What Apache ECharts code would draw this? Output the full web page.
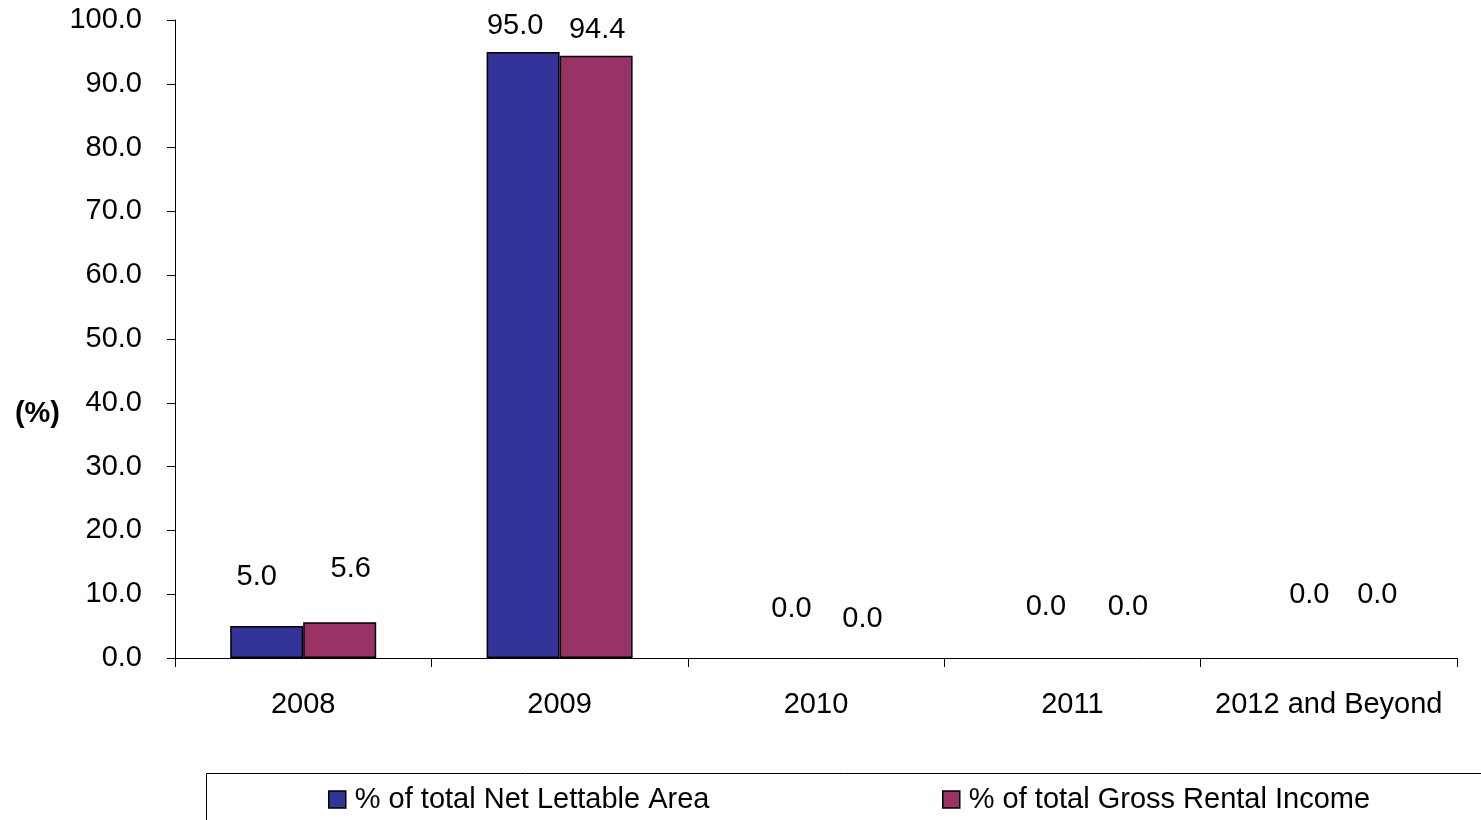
<!DOCTYPE html>
<html>
<head>
<meta charset="utf-8">
<title>Lease expiry profile</title>
<script src="https://cdn.jsdelivr.net/npm/echarts@6/dist/echarts.min.js"></script>
<style>
  html, body { margin: 0; padding: 0; background: #fff; }
  #chart { width: 1481px; height: 820px; }
</style>
</head>
<body>
<div id="chart"></div>
<script>
// categories and series values
var categories = ['2008', '2009', '2010', '2011', '2012 and Beyond'];
var netLettableArea = [5.0, 95.0, 0.0, 0.0, 0.0];
var grossRentalIncome = [5.6, 94.4, 0.0, 0.0, 0.0];
var seriesNames = ['% of total Net Lettable Area', '% of total Gross Rental Income'];
var yTicks = [0, 10, 20, 30, 40, 50, 60, 70, 80, 90, 100];

// hand-moved data labels in the original, kept apart from the values
var nlaLabelShift = [[-10, -30], [-8, -6], [12, -30], [10, -32], [17, -44]];
var griLabelShift = [[11, -34], [1, -6], [10, -20], [19, -32], [12, -44]];

var font = 'Liberation Sans, Arial, sans-serif';
var fs = 29;

function withLabels(values, shifts) {
  return values.map(function (v, i) {
    var item = { value: v, label: { offset: shifts[i] } };
    // empty bars: no outline, like the original
    if (v === 0) item.itemStyle = { borderWidth: 0 };
    return item;
  });
}

var myChart = echarts.init(document.getElementById('chart'));

var legendBase = {
  top: 785,
  padding: 0,
  icon: 'rect',
  itemWidth: 17,
  itemHeight: 17,
  itemStyle: { borderColor: '#000', borderWidth: 1.5 },
  textStyle: { fontSize: fs, color: '#000', fontFamily: font, padding: [0, 0, 0, 4] }
};

var option = {
  backgroundColor: '#fff',
  animation: false,
  textStyle: { fontFamily: font },
  grid: {
    left: 175,
    right: 24,
    top: 20,
    bottom: 162
  },
  legend: [
    Object.assign({}, legendBase, { data: [seriesNames[0]], left: 328 }),
    Object.assign({}, legendBase, { data: [seriesNames[1]], left: 942 })
  ],
  graphic: [
    {
      type: 'rect',
      left: 204,
      top: 771,
      shape: { width: 1400, height: 100 },
      style: { fill: 'none', stroke: '#000', lineWidth: 1 },
      silent: true
    }
  ],
  xAxis: {
    type: 'category',
    data: categories,
    axisLine: { lineStyle: { color: '#000', width: 1 } },
    axisTick: { show: true, length: 9, lineStyle: { color: '#000' } },
    axisLabel: { color: '#000', fontSize: fs, margin: 32, fontFamily: font, interval: 0, hideOverlap: false }
  },
  yAxis: {
    type: 'value',
    min: yTicks[0],
    max: yTicks[yTicks.length - 1],
    interval: 10,
    name: '(%)',
    nameLocation: 'middle',
    nameRotate: 0,
    nameGap: 115,
    nameTextStyle: {
      fontSize: fs,
      fontWeight: 'bold',
      color: '#000',
      fontFamily: font,
      verticalAlign: 'top',
      padding: [60, 0, 0, 0]
    },
    axisLine: { show: true, lineStyle: { color: '#000', width: 1 } },
    axisTick: { show: true, length: 8, lineStyle: { color: '#000' } },
    splitLine: { show: false },
    axisLabel: {
      color: '#000',
      fontSize: fs,
      margin: 33,
      fontFamily: font,
      formatter: function (v) { return v.toFixed(1); }
    }
  },
  series: [
    {
      name: seriesNames[0],
      type: 'bar',
      barWidth: 73,
      barGap: '0%',
      data: withLabels(netLettableArea, nlaLabelShift),
      itemStyle: { color: '#333399', borderColor: '#000', borderWidth: 1.5 },
      label: {
        show: true,
        position: 'top',
        color: '#000',
        fontSize: fs,
        fontFamily: font,
        formatter: function (p) { return p.value.toFixed(1); }
      }
    },
    {
      name: seriesNames[1],
      type: 'bar',
      barWidth: 73,
      barGap: '0%',
      data: withLabels(grossRentalIncome, griLabelShift),
      itemStyle: { color: '#993366', borderColor: '#000', borderWidth: 1.5 },
      label: {
        show: true,
        position: 'top',
        color: '#000',
        fontSize: fs,
        fontFamily: font,
        formatter: function (p) { return p.value.toFixed(1); }
      }
    }
  ]
};

myChart.setOption(option);
</script>
</body>
</html>
